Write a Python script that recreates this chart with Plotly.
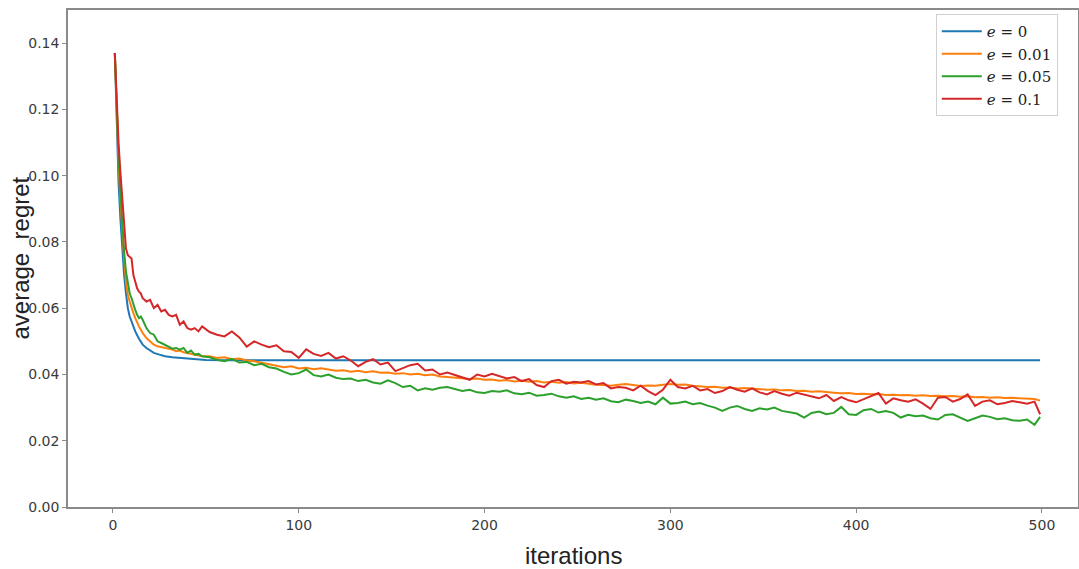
import plotly.graph_objects as go

# ---------------- data ----------------
x_early = [1, 2, 3, 4, 5, 6, 7, 8, 9, 10, 11, 12, 13, 14, 15, 16, 18, 20, 22, 24,
           26, 28, 30, 32, 34, 36, 38, 40, 42, 44, 46, 48]
x_late = list(range(52, 497, 4)) + [499]
x_noisy = x_early + x_late

x_blue = [1, 2, 3, 4, 5, 6, 7, 8, 9, 10, 12, 14, 16, 18, 20, 22, 25, 28, 32, 36,
          40, 45, 50, 60, 80, 499]
y_e0 = [0.137, 0.115, 0.098, 0.087, 0.0775, 0.070, 0.0645, 0.060, 0.0575, 0.056,
        0.053, 0.0508, 0.049, 0.048, 0.0472, 0.0465, 0.046, 0.0455, 0.0452, 0.045,
        0.0447, 0.0445, 0.0444, 0.0443, 0.0443, 0.0443]

y_e001 = [
    0.137, 0.119, 0.104, 0.093, 0.083, 0.075, 0.068, 0.064, 0.062, 0.060,
    0.0585, 0.057, 0.0555, 0.0545, 0.0535, 0.0525, 0.051, 0.050, 0.049, 0.0485,
    0.0483, 0.048, 0.0478, 0.0475, 0.047, 0.0472, 0.0467, 0.0465, 0.0462, 0.046,
    0.0458, 0.0455,
    0.0455, 0.0450, 0.0452, 0.0446, 0.0448, 0.0442, 0.0440, 0.0436, 0.0432, 0.0428,
    0.0422, 0.0425, 0.0418, 0.0420, 0.0416, 0.0419, 0.0414, 0.0411, 0.0413, 0.0408,
    0.0411, 0.0407, 0.0410, 0.0405, 0.0406, 0.0402, 0.0404, 0.0400, 0.0402, 0.0398,
    0.0400, 0.0394, 0.0392, 0.0390, 0.0388, 0.0386, 0.0388, 0.0384, 0.0385, 0.0381,
    0.0383, 0.0379, 0.0381, 0.0378, 0.0380, 0.0376, 0.0378, 0.0375, 0.0377, 0.0373,
    0.0375, 0.0371, 0.0369, 0.0368, 0.0366, 0.0369, 0.0371, 0.0368, 0.0365, 0.0367,
    0.0366, 0.0369, 0.0371, 0.0369, 0.0370, 0.0366, 0.0364, 0.0362, 0.0363, 0.0360,
    0.0361, 0.0358, 0.0359, 0.0357, 0.0356, 0.0354, 0.0355, 0.0352, 0.0353, 0.0350,
    0.0351, 0.0348, 0.0349, 0.0346, 0.0345, 0.0343, 0.0344, 0.0341, 0.0342, 0.0340,
    0.0341, 0.0338, 0.0339, 0.0337, 0.0338, 0.0336, 0.0337, 0.0335, 0.0336, 0.0334,
    0.0335, 0.0333, 0.0334, 0.0331, 0.0332, 0.0330, 0.0331, 0.0329, 0.0330, 0.0328,
    0.0327, 0.0326, 0.0321,
]

y_e005 = [
    0.137, 0.120, 0.106, 0.095, 0.085, 0.077, 0.071, 0.067, 0.0645, 0.063,
    0.061, 0.0595, 0.058, 0.057, 0.0575, 0.0565, 0.054, 0.0525, 0.052, 0.050,
    0.0495, 0.049, 0.0485, 0.0478, 0.048, 0.0475, 0.048, 0.0465, 0.0472, 0.046,
    0.0462, 0.0455,
    0.0452, 0.0444, 0.0440, 0.0447, 0.0436, 0.0438, 0.0428, 0.0432, 0.0422, 0.0418,
    0.0408, 0.0400, 0.0404, 0.0415, 0.0398, 0.0394, 0.0400, 0.0390, 0.0386, 0.0388,
    0.0380, 0.0384, 0.0376, 0.0372, 0.0382, 0.0374, 0.0362, 0.0366, 0.0352, 0.0358,
    0.0354, 0.0360, 0.0362, 0.0356, 0.0350, 0.0354, 0.0346, 0.0344, 0.0350, 0.0348,
    0.0352, 0.0343, 0.0340, 0.0345, 0.0336, 0.0338, 0.0342, 0.0334, 0.0330, 0.0334,
    0.0326, 0.0330, 0.0324, 0.0328, 0.0319, 0.0316, 0.0324, 0.0320, 0.0314, 0.0318,
    0.0310, 0.0330, 0.0312, 0.0314, 0.0318, 0.0310, 0.0314, 0.0306, 0.0300, 0.0290,
    0.0300, 0.0305, 0.0296, 0.0290, 0.0298, 0.0294, 0.0300, 0.0290, 0.0286, 0.0282,
    0.0270, 0.0284, 0.0288, 0.0280, 0.0284, 0.0302, 0.0280, 0.0278, 0.0292, 0.0296,
    0.0285, 0.0290, 0.0284, 0.0270, 0.0278, 0.0274, 0.0276, 0.0268, 0.0264, 0.0278,
    0.0280, 0.0270, 0.0260, 0.0268, 0.0276, 0.0272, 0.0265, 0.0268, 0.0262, 0.0260,
    0.0264, 0.0248, 0.0272,
]

y_e01 = [
    0.137, 0.122, 0.110, 0.101, 0.093, 0.085, 0.078, 0.076, 0.0755, 0.075,
    0.070, 0.068, 0.066, 0.065, 0.0645, 0.063, 0.062, 0.0625, 0.060, 0.061,
    0.059, 0.0595, 0.058, 0.0575, 0.058, 0.055, 0.056, 0.054, 0.0535, 0.054,
    0.053, 0.0545,
    0.0528, 0.0520, 0.0515, 0.0530, 0.0512, 0.0484, 0.0500, 0.0490, 0.0482, 0.0488,
    0.0470, 0.0468, 0.0450, 0.0476, 0.0462, 0.0456, 0.0465, 0.0448, 0.0455, 0.0442,
    0.0425, 0.0438, 0.0446, 0.0430, 0.0436, 0.0410, 0.0420, 0.0428, 0.0432, 0.0412,
    0.0415, 0.0400, 0.0406, 0.0398, 0.0392, 0.0384, 0.0400, 0.0394, 0.0402, 0.0396,
    0.0388, 0.0392, 0.0380, 0.0386, 0.0368, 0.0362, 0.0380, 0.0384, 0.0372, 0.0378,
    0.0376, 0.0380, 0.0370, 0.0374, 0.0358, 0.0362, 0.0360, 0.0352, 0.0366, 0.0350,
    0.0338, 0.0354, 0.0384, 0.0362, 0.0358, 0.0366, 0.0352, 0.0356, 0.0344, 0.0350,
    0.0362, 0.0354, 0.0348, 0.0358, 0.0346, 0.0340, 0.0350, 0.0342, 0.0336, 0.0345,
    0.0340, 0.0334, 0.0328, 0.0338, 0.0320, 0.0332, 0.0322, 0.0316, 0.0326, 0.0334,
    0.0344, 0.0312, 0.0328, 0.0322, 0.0318, 0.0325, 0.0312, 0.0296, 0.0330, 0.0332,
    0.0318, 0.0326, 0.0340, 0.0305, 0.0318, 0.0322, 0.0310, 0.0314, 0.0320, 0.0316,
    0.0312, 0.0318, 0.0280,
]

series_names = ["<i>e</i> = 0", "<i>e</i> = 0.01", "<i>e</i> = 0.05", "<i>e</i> = 0.1"]
colors = ["#1f77b4", "#ff7f0e", "#2ca02c", "#d62728"]

x_ticks = [0, 100, 200, 300, 400, 500]
y_ticks = [0.00, 0.02, 0.04, 0.06, 0.08, 0.10, 0.12, 0.14]

# ---------------- figure ----------------
fig = go.Figure()
fig.add_trace(go.Scatter(x=x_blue, y=y_e0, mode="lines", name=series_names[0],
                         line=dict(color=colors[0], width=2)))
for name, ys, c in zip(series_names[1:], [y_e001, y_e005, y_e01], colors[1:]):
    fig.add_trace(go.Scatter(x=x_noisy, y=ys, mode="lines", name=name,
                             line=dict(color=c, width=2)))

axis_common = dict(
    showline=True, mirror=True, linecolor="#8a8a8a", linewidth=1.5,
    showgrid=False, zeroline=False, ticks="outside", ticklen=4,
    tickcolor="#8a8a8a", automargin=False,
    tickfont=dict(family="DejaVu Sans", size=14, color="#3a3a3a"),
)

fig.update_xaxes(range=[-24.2, 519.4], tickvals=x_ticks, **axis_common)
fig.update_yaxes(range=[0, 0.15], tickvals=y_ticks, tickformat=".2f", **axis_common)

fig.add_annotation(text="iterations", xref="paper", yref="paper", x=0.5, y=-0.097,
                   xanchor="center", yanchor="middle", showarrow=False,
                   font=dict(family="Liberation Sans", size=24, color="#222222"))
fig.add_annotation(text="average  regret", xref="paper", yref="paper", x=-0.0475, y=0.5,
                   xanchor="center", yanchor="middle", showarrow=False, textangle=-90,
                   font=dict(family="Liberation Sans", size=24, color="#222222"))

fig.update_layout(
    width=1079, height=569,
    margin=dict(l=68, r=1, t=10, b=62, autoexpand=False),
    plot_bgcolor="white", paper_bgcolor="white",
    showlegend=True,
    legend=dict(x=0.98, y=0.992, xanchor="right", yanchor="top",
                bgcolor="white", bordercolor="#d0d0d0", borderwidth=1,
                font=dict(family="DejaVu Serif", size=15, color="#222222"),
                itemwidth=40, tracegroupgap=0),
)

fig.write_html("out.html", config={"displayModeBar": False},
               post_script="document.body.style.margin='0px';")
